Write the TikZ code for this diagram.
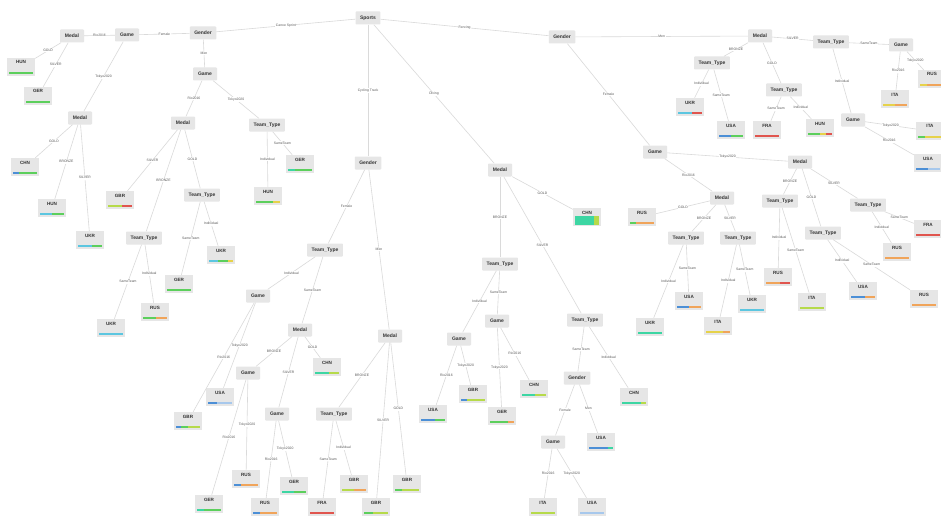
\documentclass[tikz,border=0pt]{standalone}
\usepackage{fontspec}
\setmainfont{Liberation Sans}
\usetikzlibrary{calc}
\definecolor{nodegray}{HTML}{E6E6E6}
\definecolor{edgegray}{HTML}{DADADA}
\definecolor{txt}{HTML}{333333}
\definecolor{lbl}{HTML}{5A5A5A}
\definecolor{bBlue}{HTML}{4C8FD6}
\definecolor{bCyan}{HTML}{5CC6E0}
\definecolor{bTeal}{HTML}{3DD6A3}
\definecolor{bGreen}{HTML}{5CCF5C}
\definecolor{bLime}{HTML}{B6DA4A}
\definecolor{bYellow}{HTML}{E6D24A}
\definecolor{bOrange}{HTML}{F0A45A}
\definecolor{bRed}{HTML}{E0554E}
\definecolor{bSky}{HTML}{A7C8EC}
% leaf: name, text position, country, bar segments colour/from/to
\newcommand\leafnode[4]{%
  \node[leafbox] (#1) at ($(#2)+(0,4)$) {#3};
  \foreach \c/\a/\b in {#4}
    \fill[\c] ($(#1.south west)+({(2+24*\a)*1pt},1.8pt)$) rectangle ($(#1.south west)+({(2+24*\b)*1pt},3.8pt)$);
}
\begin{document}
\begin{tikzpicture}[x=1pt,y=-1pt,
  inner/.style={fill=nodegray, rounded corners=0.8pt, minimum height=13pt, minimum width=24pt,
    inner xsep=4.5pt, inner ysep=0pt, font=\fontsize{5}{6}\selectfont\bfseries, text=txt},
  leafbox/.style={fill=nodegray, minimum width=28pt, text height=4pt, text depth=10pt,
    inner xsep=0pt, inner ysep=2pt, font=\fontsize{4.6}{5}\selectfont\bfseries, text=txt},
  edge/.style={draw=edgegray, line width=0.6pt},
  elab/.style={fill=white, inner sep=0.6pt, font=\fontsize{3.4}{4}\selectfont, text=lbl}]
\useasboundingbox (0,0) rectangle (941,516);
\fill[white] (0,0) rectangle (941,516);

% ---------- internal nodes ----------
\node[inner] (sports) at (368,18) {Sports};
\node[inner] (gA) at (203,33) {Gender};
\node[inner] (gB) at (562,37) {Gender};
\node[inner] (gC) at (368,163) {Gender};
\node[inner] (mD) at (500,170) {Medal};

% canoe sprint
\node[inner] (gameA1) at (127,35) {Game};
\node[inner] (gameA2) at (205,74) {Game};
\node[inner] (medA1) at (72,36) {Medal};
\node[inner] (medA2) at (80,118) {Medal};
\node[inner] (medA3) at (183,123) {Medal};
\node[inner] (ttA1) at (267,125) {Team\_Type};
\node[inner] (ttA2) at (202,195) {Team\_Type};
\node[inner] (ttA3) at (144,238) {Team\_Type};

% cycling track
\node[inner] (ttC1) at (325,250) {Team\_Type};
\node[inner] (medC1) at (390,336) {Medal};
\node[inner] (gameC1) at (258,296) {Game};
\node[inner] (medC2) at (300,330) {Medal};
\node[inner] (gameC2) at (248,373) {Game};
\node[inner] (gameC3) at (277,414) {Game};
\node[inner] (ttC2) at (334,414) {Team\_Type};

% diving
\node[inner] (ttD1) at (500,264) {Team\_Type};
\node[inner] (ttD2) at (585,320) {Team\_Type};
\node[inner] (gameD1) at (459,339) {Game};
\node[inner] (gameD2) at (497,321) {Game};
\node[inner] (genD) at (577,378) {Gender};
\node[inner] (gameD3) at (553,442) {Game};

% fencing
\node[inner] (medB1) at (760,36) {Medal};
\node[inner] (gameB1) at (655,152) {Game};
\node[inner] (ttB1) at (831,42) {Team\_Type};
\node[inner] (ttB2) at (712,63) {Team\_Type};
\node[inner] (ttB3) at (784,90) {Team\_Type};
\node[inner] (gameB2) at (901,45) {Game};
\node[inner] (gameB3) at (853,120) {Game};
\node[inner] (medB2) at (800,162) {Medal};
\node[inner] (medB3) at (722,198) {Medal};
\node[inner] (ttB4) at (780,201) {Team\_Type};
\node[inner] (ttB5) at (823,233) {Team\_Type};
\node[inner] (ttB6) at (868,205) {Team\_Type};
\node[inner] (ttB7) at (686,238) {Team\_Type};
\node[inner] (ttB8) at (738,238) {Team\_Type};

% ---------- leaves ----------
\leafnode{lA1}{21,63}{HUN}{bGreen/0/1}
\leafnode{lA2}{38,92}{GER}{bGreen/0/1}
\leafnode{lA3}{25,163}{CHN}{bBlue/0/0.25,bGreen/0.25/1}
\leafnode{lA4}{52,204}{HUN}{bCyan/0/0.5,bGreen/0.5/1}
\leafnode{lA5}{90,236}{UKR}{bCyan/0/0.6,bGreen/0.6/1}
\leafnode{lA6}{120,196}{GBR}{bLime/0/0.6,bRed/0.6/1}
\leafnode{lA7}{221,251}{UKR}{bCyan/0/0.4,bGreen/0.4/0.8,bYellow/0.8/1}
\leafnode{lA8}{179,280}{GER}{bGreen/0/1}
\leafnode{lA9}{155,308}{RUS}{bGreen/0/0.55,bOrange/0.55/1}
\leafnode{lA10}{111,324}{UKR}{bCyan/0/1}
\leafnode{lA11}{300,160}{GER}{bTeal/0/0.3,bGreen/0.3/1}
\leafnode{lA12}{268,192}{HUN}{bGreen/0/0.7,bYellow/0.7/1}

\leafnode{lC1}{220,393}{USA}{bBlue/0/0.4,bSky/0.4/1}
\leafnode{lC2}{188,417}{GBR}{bBlue/0/0.2,bGreen/0.2/0.5,bLime/0.5/1}
\leafnode{lC3}{327,363}{CHN}{bTeal/0/0.6,bLime/0.6/1}
\leafnode{lC4}{246,475}{RUS}{bBlue/0/0.3,bOrange/0.3/1}
\leafnode{lC5}{209,500}{GER}{bTeal/0/0.3,bGreen/0.3/1}
\leafnode{lC6}{294,482}{GER}{bTeal/0/0.5,bGreen/0.5/1}
\leafnode{lC7}{265,503}{RUS}{bBlue/0/0.3,bOrange/0.3/1}
\leafnode{lC8}{376,503}{GBR}{bGreen/0/0.4,bLime/0.4/1}
\leafnode{lC9}{407,480}{GBR}{bGreen/0/0.3,bLime/0.3/1}
\leafnode{lC10}{354,480}{GBR}{bLime/0/0.5,bOrange/0.5/1}
\leafnode{lC11}{322,503}{FRA}{bRed/0/1}

\node[leafbox] (lD1) at (587,217) {CHN};
\fill[bTeal] ($(lD1.south west)+(2pt,1.5pt)$) rectangle ($(lD1.south west)+(21pt,10pt)$);
\fill[bLime] ($(lD1.south west)+(21pt,1.5pt)$) rectangle ($(lD1.south west)+(26pt,10pt)$);
\leafnode{lD2}{433,410}{USA}{bBlue/0/0.6,bGreen/0.6/1}
\leafnode{lD3}{473,390}{GBR}{bBlue/0/0.25,bLime/0.25/1}
\leafnode{lD4}{502,412}{GER}{bGreen/0/0.75,bOrange/0.75/1}
\leafnode{lD5}{534,385}{CHN}{bTeal/0/0.55,bLime/0.55/1}
\leafnode{lD6}{634,393}{CHN}{bTeal/0/0.8,bLime/0.8/1}
\leafnode{lD7}{601,438}{USA}{bBlue/0/0.8,bTeal/0.8/1}
\leafnode{lD8}{543,503}{ITA}{bLime/0/1}
\leafnode{lD9}{592,503}{USA}{bSky/0/1}

\leafnode{lB1}{932,75}{RUS}{bYellow/0/0.3,bOrange/0.3/1}
\leafnode{lB2}{895,95}{ITA}{bYellow/0/0.5,bOrange/0.5/1}
\leafnode{lB3}{930,127}{ITA}{bGreen/0/0.3,bYellow/0.3/1}
\leafnode{lB4}{928,159}{USA}{bBlue/0/0.5,bSky/0.5/1}
\leafnode{lB5}{690,103}{UKR}{bCyan/0/0.6,bRed/0.6/1}
\leafnode{lB6}{731,126}{USA}{bBlue/0/0.5,bGreen/0.5/1}
\leafnode{lB7}{767,126}{FRA}{bRed/0/1}
\leafnode{lB8}{820,124}{HUN}{bGreen/0/0.5,bYellow/0.5/0.75,bRed/0.75/1}
\leafnode{lB9}{642,213}{RUS}{bGreen/0/0.25,bOrange/0.25/1}
\leafnode{lB10}{689,297}{USA}{bBlue/0/0.5,bOrange/0.5/1}
\leafnode{lB11}{650,323}{UKR}{bTeal/0/1}
\leafnode{lB12}{752,300}{UKR}{bCyan/0/1}
\leafnode{lB13}{718,322}{ITA}{bYellow/0/0.7,bOrange/0.7/1}
\leafnode{lB14}{778,273}{RUS}{bOrange/0/0.6,bRed/0.6/1}
\leafnode{lB15}{812,298}{ITA}{bLime/0/1}
\leafnode{lB16}{863,287}{USA}{bBlue/0/0.6,bOrange/0.6/1}
\leafnode{lB17}{924,295}{RUS}{bOrange/0/1}
\leafnode{lB18}{928,225}{FRA}{bRed/0/1}
\leafnode{lB19}{897,248}{RUS}{bOrange/0/1}

% ---------- connectors ----------
\draw[edge] (sports) -- node[elab]{Canoe Sprint} (gA);
\draw[edge] (sports) -- node[elab]{Fencing} (gB);
\draw[edge] (sports) -- node[elab]{Cycling Track} (gC);
\draw[edge] (sports) -- node[elab]{Diving} (mD);

\draw[edge] (gA) -- node[elab]{Female} (gameA1);
\draw[edge] (gA) -- node[elab]{Men} (gameA2);
\draw[edge] (gameA1) -- node[elab]{Rio2016} (medA1);
\draw[edge] (gameA1) -- node[elab]{Tokyo2020} (medA2);
\draw[edge] (medA1) -- node[elab]{GOLD} (lA1);
\draw[edge] (medA1) -- node[elab]{SILVER} (lA2);
\draw[edge] (medA2) -- node[elab]{GOLD} (lA3);
\draw[edge] (medA2) -- node[elab]{BRONZE} (lA4);
\draw[edge] (medA2) -- node[elab]{SILVER} (lA5);
\draw[edge] (gameA2) -- node[elab]{Rio2016} (medA3);
\draw[edge] (gameA2) -- node[elab]{Tokyo2020} (ttA1);
\draw[edge] (medA3) -- node[elab]{SILVER} (lA6);
\draw[edge] (medA3) -- node[elab]{GOLD} (ttA2);
\draw[edge] (medA3) -- node[elab]{BRONZE} (ttA3);
\draw[edge] (ttA2) -- node[elab]{Individual} (lA7);
\draw[edge] (ttA2) -- node[elab]{SameTeam} (lA8);
\draw[edge] (ttA3) -- node[elab]{Individual} (lA9);
\draw[edge] (ttA3) -- node[elab]{SameTeam} (lA10);
\draw[edge] (ttA1) -- node[elab]{SameTeam} (lA11);
\draw[edge] (ttA1) -- node[elab]{Individual} (lA12);

\draw[edge] (gC) -- node[elab]{Female} (ttC1);
\draw[edge] (gC) -- node[elab]{Men} (medC1);
\draw[edge] (ttC1) -- node[elab]{Individual} (gameC1);
\draw[edge] (ttC1) -- node[elab]{SameTeam} (medC2);
\draw[edge] (gameC1) -- node[elab]{Tokyo2020} (lC1);
\draw[edge] (gameC1) -- node[elab]{Rio2016} (lC2);
\draw[edge] (medC2) -- node[elab]{BRONZE} (gameC2);
\draw[edge] (medC2) -- node[elab]{GOLD} (lC3);
\draw[edge] (medC2) -- node[elab]{SILVER} (gameC3);
\draw[edge] (gameC2) -- node[elab]{Tokyo2020} (lC4);
\draw[edge] (gameC2) -- node[elab]{Rio2016} (lC5);
\draw[edge] (gameC3) -- node[elab]{Tokyo2020} (lC6);
\draw[edge] (gameC3) -- node[elab]{Rio2016} (lC7);
\draw[edge] (medC1) -- node[elab]{BRONZE} (ttC2);
\draw[edge] (medC1) -- node[elab]{SILVER} (lC8);
\draw[edge] (medC1) -- node[elab]{GOLD} (lC9);
\draw[edge] (ttC2) -- node[elab]{Individual} (lC10);
\draw[edge] (ttC2) -- node[elab]{SameTeam} (lC11);

\draw[edge] (mD) -- node[elab]{GOLD} (lD1);
\draw[edge] (mD) -- node[elab]{BRONZE} (ttD1);
\draw[edge] (mD) -- node[elab]{SILVER} (ttD2);
\draw[edge] (ttD1) -- node[elab]{Individual} (gameD1);
\draw[edge] (ttD1) -- node[elab]{SameTeam} (gameD2);
\draw[edge] (gameD1) -- node[elab]{Rio2016} (lD2);
\draw[edge] (gameD1) -- node[elab]{Tokyo2020} (lD3);
\draw[edge] (gameD2) -- node[elab]{Tokyo2020} (lD4);
\draw[edge] (gameD2) -- node[elab]{Rio2016} (lD5);
\draw[edge] (ttD2) -- node[elab]{SameTeam} (genD);
\draw[edge] (ttD2) -- node[elab]{Individual} (lD6);
\draw[edge] (genD) -- node[elab]{Female} (gameD3);
\draw[edge] (genD) -- node[elab]{Men} (lD7);
\draw[edge] (gameD3) -- node[elab]{Rio2016} (lD8);
\draw[edge] (gameD3) -- node[elab]{Tokyo2020} (lD9);

\draw[edge] (gB) -- node[elab]{Men} (medB1);
\draw[edge] (gB) -- node[elab]{Female} (gameB1);
\draw[edge] (medB1) -- node[elab]{SILVER} (ttB1);
\draw[edge] (medB1) -- node[elab]{BRONZE} (ttB2);
\draw[edge] (medB1) -- node[elab]{GOLD} (ttB3);
\draw[edge] (ttB1) -- node[elab]{SameTeam} (gameB2);
\draw[edge] (ttB1) -- node[elab]{Individual} (gameB3);
\draw[edge] (gameB2) -- node[elab]{Tokyo2020} (lB1);
\draw[edge] (gameB2) -- node[elab]{Rio2016} (lB2);
\draw[edge] (gameB3) -- node[elab]{Tokyo2020} (lB3);
\draw[edge] (gameB3) -- node[elab]{Rio2016} (lB4);
\draw[edge] (ttB2) -- node[elab]{Individual} (lB5);
\draw[edge] (ttB2) -- node[elab]{SameTeam} (lB6);
\draw[edge] (ttB3) -- node[elab]{SameTeam} (lB7);
\draw[edge] (ttB3) -- node[elab]{Individual} (lB8);
\draw[edge] (gameB1) -- node[elab]{Tokyo2020} (medB2);
\draw[edge] (gameB1) -- node[elab]{Rio2016} (medB3);
\draw[edge] (medB2) -- node[elab]{BRONZE} (ttB4);
\draw[edge] (medB2) -- node[elab]{GOLD} (ttB5);
\draw[edge] (medB2) -- node[elab]{SILVER} (ttB6);
\draw[edge] (medB3) -- node[elab]{GOLD} (lB9);
\draw[edge] (medB3) -- node[elab]{BRONZE} (ttB7);
\draw[edge] (medB3) -- node[elab]{SILVER} (ttB8);
\draw[edge] (ttB7) -- node[elab]{SameTeam} (lB10);
\draw[edge] (ttB7) -- node[elab]{Individual} (lB11);
\draw[edge] (ttB8) -- node[elab]{SameTeam} (lB12);
\draw[edge] (ttB8) -- node[elab]{Individual} (lB13);
\draw[edge] (ttB4) -- node[elab]{Individual} (lB14);
\draw[edge] (ttB4) -- node[elab]{SameTeam} (lB15);
\draw[edge] (ttB5) -- node[elab]{Individual} (lB16);
\draw[edge] (ttB5) -- node[elab]{SameTeam} (lB17);
\draw[edge] (ttB6) -- node[elab]{SameTeam} (lB18);
\draw[edge] (ttB6) -- node[elab]{Individual} (lB19);
\end{tikzpicture}
\end{document}
